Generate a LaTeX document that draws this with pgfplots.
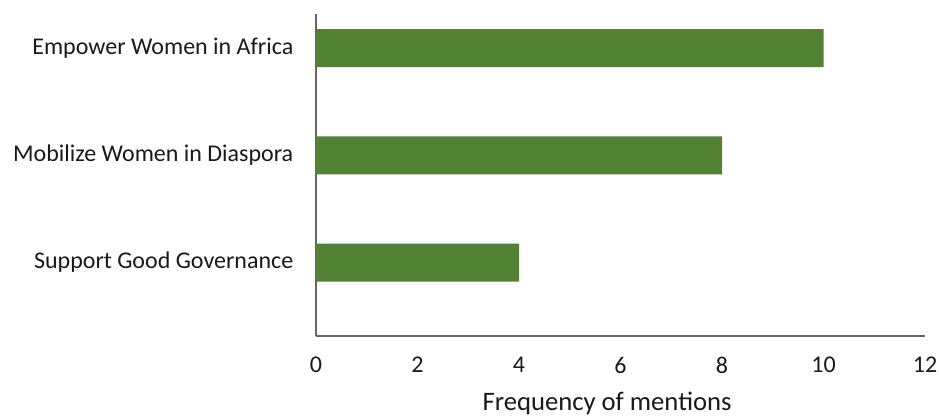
\documentclass[border=0pt]{standalone}
\usepackage{pgfplots}
\pgfplotsset{compat=1.18}
\usepackage{fontspec}
\setmainfont{Carlito}
\definecolor{bargreen}{HTML}{548235}
\begin{document}
\begin{tikzpicture}
\path[use as bounding box] (0pt,0pt) rectangle (704.25pt,-312pt);
\begin{axis}[
  at={(237pt,-252pt)}, anchor=south west,
  scale only axis,
  width=456.75pt, height=241.5pt,
  xmin=0, xmax=12,
  ymin=-0.685, ymax=2.317,
  xtick={0,2,4,6,8,10,12},
  ytick={0,1,2},
  yticklabels={Support Good Governance, Mobilize Women in Diaspora, Empower Women in Africa},
  axis x line*=bottom,
  axis y line*=left,
  axis line style={draw=black!60, line width=0.8pt},
  x axis line style={-},
  y axis line style={-},
  major tick length=0pt,
  tick label style={font=\fontsize{18}{20}\selectfont, text=black!90},
  xticklabel style={anchor=center, yshift=-21.75pt},
  yticklabel style={xshift=-13.5pt},
  /pgf/number format/assume math mode=true,
  xlabel={Frequency of mentions},
  xlabel style={font=\fontsize{20}{22}\selectfont, text=black!90, at={(axis description cs:0.478,0)}, anchor=center, yshift=-50.5pt},
  clip=false,
]
\addplot[xbar, bar width=28.5pt, fill=bargreen, draw=none] coordinates {(4,0) (8,1) (10,2)};
\end{axis}
\end{tikzpicture}
\end{document}
